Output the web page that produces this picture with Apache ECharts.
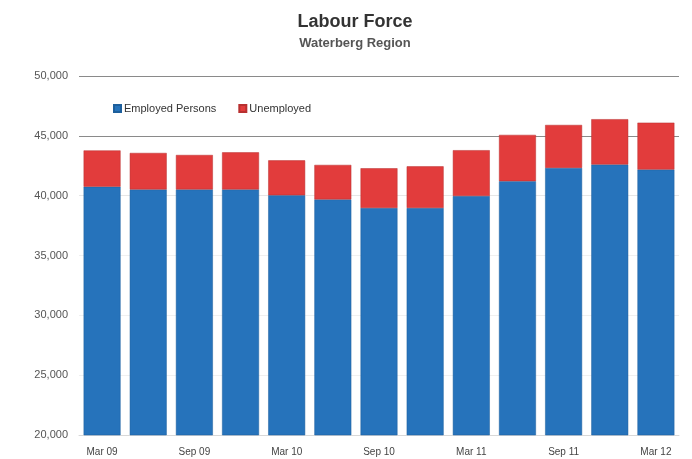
<!DOCTYPE html>
<html>
<head>
<meta charset="utf-8">
<script src="https://cdn.jsdelivr.net/npm/echarts@6/dist/echarts.min.js"></script>
<style>
  html, body { margin: 0; padding: 0; background: #ffffff; }
  #chart { width: 692px; height: 459px; }
</style>
</head>
<body>
<div id="chart"></div>
<script>
// Quarterly labour force figures
const quarters = ['Mar 09', 'Jun 09', 'Sep 09', 'Dec 09', 'Mar 10', 'Jun 10', 'Sep 10',
                  'Dec 10', 'Mar 11', 'Jun 11', 'Sep 11', 'Dec 11', 'Mar 12'];
const employedPersons = [40750, 40520, 40520, 40520, 40030, 39690, 38970,
                         38970, 39970, 41210, 42320, 42600, 42180];
const unemployed = [3030, 3050, 2880, 3100, 2920, 2880, 3320,
                    3480, 3830, 3870, 3590, 3790, 3920];
const yTicks = [20000, 25000, 30000, 35000, 40000, 45000, 50000];

const chart = echarts.init(document.getElementById('chart'));
const fmt = v => v.toLocaleString('en-US');

// grid lines: faint inside the bars' range, darker at the top two levels
const gridColors = ['#f0f0f0', '#f0f0f0', '#f0f0f0', '#f0f0f0', '#e6e6e6', '#8a8a8a', '#8a8a8a'];

chart.setOption({
  backgroundColor: '#ffffff',
  animation: false,
  title: {
    text: 'Labour Force',
    subtext: 'Waterberg Region',
    left: 350,
    textAlign: 'center',
    top: 8,
    itemGap: 6,
    textStyle: { fontFamily: 'Liberation Sans', fontSize: 18, fontWeight: 'bold', color: '#333333' },
    subtextStyle: { fontFamily: 'Liberation Sans', fontSize: 13, fontWeight: 'bold', color: '#555555' }
  },
  legend: {
    left: 108,
    top: 98,
    itemWidth: 7,
    itemHeight: 7,
    itemGap: 22,
    icon: 'rect',
    textStyle: { fontFamily: 'Liberation Sans', fontSize: 11, color: '#333333', padding: [0, 0, 0, -2] },
    data: ['Employed Persons', 'Unemployed']
  },
  grid: { left: 79, right: 13, top: 76, bottom: 24 },
  xAxis: {
    type: 'category',
    data: quarters,
    axisLine: { show: true, lineStyle: { color: '#d8d8d8' } },
    axisTick: { show: false },
    axisLabel: {
      interval: 1,
      margin: 12,
      fontFamily: 'Liberation Sans',
      fontSize: 10,
      color: '#444444'
    }
  },
  yAxis: {
    type: 'value',
    min: yTicks[0],
    max: yTicks[yTicks.length - 1],
    interval: 5000,
    axisLine: { show: false },
    axisTick: { show: false },
    axisLabel: {
      margin: 11,
      fontFamily: 'Liberation Sans',
      fontSize: 11,
      color: '#555555',
      formatter: fmt
    },
    splitLine: { show: true, lineStyle: { color: gridColors, width: 1 } }
  },
  series: [
    {
      name: 'Employed Persons',
      type: 'bar',
      stack: 'force',
      barCategoryGap: '20%',
      itemStyle: { color: '#2673bb', borderColor: '#1d5f9c', borderWidth: 0.5 },
      data: employedPersons
    },
    {
      name: 'Unemployed',
      type: 'bar',
      stack: 'force',
      barCategoryGap: '20%',
      itemStyle: { color: '#e23c3c', borderColor: '#b83030', borderWidth: 0.5 },
      data: unemployed
    }
  ]
});
</script>
</body>
</html>
